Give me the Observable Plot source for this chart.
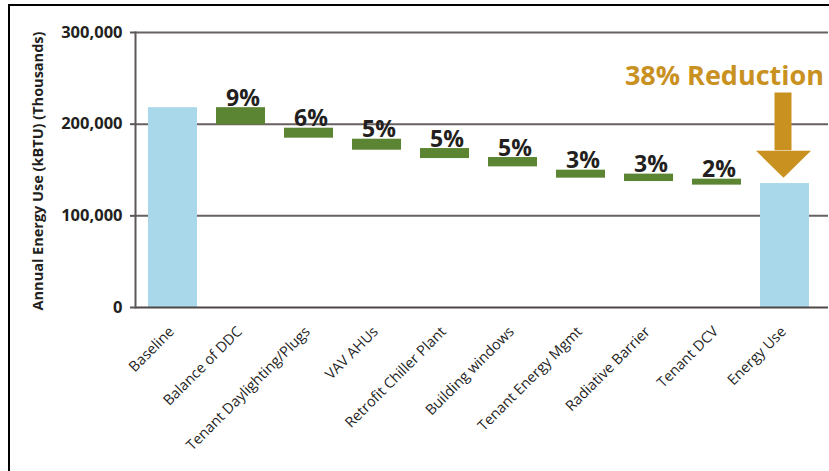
<!DOCTYPE html>
<html><head><meta charset="utf-8">
<script src="https://cdn.jsdelivr.net/npm/d3@7"></script>
<script src="https://cdn.jsdelivr.net/npm/@observablehq/plot@0.6"></script>
<style>
body{margin:0;background:#fff;}
#wrap{position:relative;width:829px;height:471px;overflow:hidden;}
#frame{position:absolute;left:8px;top:4px;width:840px;height:490px;border-top:2.5px solid #000;border-left:2.5px solid #000;pointer-events:none;z-index:2;}
g[aria-label="y-axis tick label"] text{font-weight:700;}
</style></head><body><div id="wrap"><div id="frame"></div></div>
<script>
const categories = ["Baseline","Balance of DDC","Tenant Daylighting/Plugs","VAV AHUs","Retrofit Chiller Plant","Building windows","Tenant Energy Mgmt","Radiative Barrier","Tenant DCV","Energy Use"];
const barTops    = [218000, 218000, 195600, 183600, 173400, 163600, 149800, 145500, 140000, 135200];
const barBottoms = [0, 199200, 184700, 171600, 162500, 153400, 141100, 137400, 133500, 0];
const barKinds   = ["total","step","step","step","step","step","step","step","step","total"];
const stepLabels = ["","9%","6%","5%","5%","5%","3%","3%","2%",""];
const yTicks = [0, 100000, 200000, 300000];
const yTitle = "Annual Energy Use (kBTU) (Thousands)";
const calloutText = "38% Reduction";
const calloutValue = 243000;
const arrowCategory = "Energy Use";
const arrowShaftTop = 234000;
const arrowHeadBase = 171000;

const rows = categories.map((c, i) => ({category: c, top: barTops[i], bottom: barBottoms[i], kind: barKinds[i], label: stepLabels[i]}));

const blue = "#a8d8ea", green = "#5b8532", gold = "#c9911f", ink = "#231f20";

const arrowHead = {
  draw(ctx) {
    ctx.moveTo(-27.5, 0);
    ctx.lineTo(27.5, 0);
    ctx.lineTo(0, 27);
    ctx.closePath();
  }
};

const chart = Plot.plot({
  width: 829,
  height: 471,
  marginLeft: 135,
  marginRight: 1,
  marginTop: 32,
  marginBottom: 164,
  style: {fontFamily: "'Open Sans', sans-serif", color: ink, background: "transparent"},
  x: {type: "band", domain: categories, range: [135, 822.5], paddingInner: 0.285, paddingOuter: 0.16, axis: null},
  y: {domain: [0, 300000], axis: null},
  color: {domain: ["total", "step"], range: [blue, green]},
  marks: [
    Plot.ruleY(yTicks.filter(d => d > 0), {stroke: "#676161", strokeWidth: 2}),
    Plot.rectY(rows, {x: "category", y1: "bottom", y2: "top", fill: "kind"}),
    Plot.ruleY([0], {stroke: "#4d4747", strokeWidth: 2}),
    Plot.frame({anchor: "left", stroke: "#5d5757", strokeWidth: 2}),
    Plot.axisY({ticks: yTicks, tickFormat: d3.format(","), tickSize: 5, tickPadding: 8, fontSize: 16.5, fontWeight: "bold", stroke: "#5d5757", strokeWidth: 2, label: null}),
    Plot.text([yTitle], {frameAnchor: "left", textAnchor: "middle", rotate: -90, dx: -97, dy: 1, fontSize: 14.5, fontWeight: "bold", fill: ink}),
    Plot.text(rows.filter(d => d.label), {x: "category", y: "top", text: "label", lineAnchor: "bottom", dy: -2, dx: 2, fontSize: 23, fontWeight: "bold", fill: ink}),
    Plot.text(categories, {x: d => d, frameAnchor: "bottom", rotate: -45, textAnchor: "end", lineAnchor: "bottom", dx: 2, dy: 25, fontSize: 14.5, fill: "#1f1f1f"}),
    Plot.rectY([arrowCategory], {x: d => d, y1: arrowHeadBase, y2: arrowShaftTop, fill: gold, insetLeft: 14.5, insetRight: 17.5}),
    Plot.dot([arrowCategory], {x: d => d, y: arrowHeadBase, symbol: arrowHead, fill: gold, stroke: "none", r: 5, dx: -1.5}),
    Plot.text([calloutText], {x: [arrowCategory], y: [calloutValue], text: d => d, textAnchor: "end", lineAnchor: "bottom", dx: 39, fontSize: 27, fontWeight: "bold", fill: gold})
  ]
});
document.getElementById("wrap").appendChild(chart);
</script>
</body></html>
